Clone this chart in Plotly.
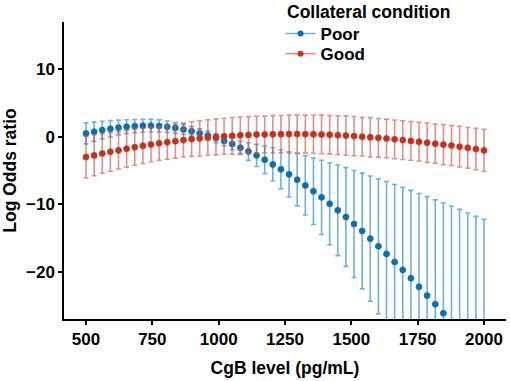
import numpy as np
import plotly.graph_objects as go

# CgB level grid (50 evenly spaced levels from 500 to 2000 pg/mL)
cgb_level = list(np.linspace(500, 2000, 50))

# Poor collateral: log odds ratio and CI half-width
poor_logor = [0.47, 0.71, 0.96, 1.15, 1.33, 1.45, 1.54, 1.60, 1.61, 1.57,
              1.45, 1.28, 1.05, 0.78, 0.48, 0.15, -0.22, -0.64, -1.10, -1.65,
              -2.20, -2.77, -3.41, -4.10, -4.83, -5.57, -6.36, -7.20, -8.07, -8.96,
              -9.90, -10.87, -11.86, -12.89, -13.92, -15.05, -16.17, -17.30, -18.48, -19.66,
              -20.88, -22.16, -23.45, -24.71, -26.04, -27.35, -28.70, -30.05, -31.40, -32.75]
poor_ci = [1.55, 1.42, 1.30, 1.20, 1.10, 1.03, 0.98, 0.95, 0.93, 0.90,
           0.85, 0.80, 0.75, 0.70, 0.66, 0.65, 0.67, 0.72, 0.82, 1.00,
           1.30, 1.65, 2.03, 2.45, 2.88, 3.33, 3.85, 4.37, 4.90, 5.47,
           6.05, 6.68, 7.28, 7.90, 8.54, 9.23, 9.96, 10.67, 11.41, 12.20,
           12.95, 13.76, 14.59, 15.38, 16.25, 17.11, 17.97, 18.78, 19.64, 20.55]

# Good collateral
good_logor = [-3.02, -2.77, -2.50, -2.25, -2.03, -1.80, -1.57, -1.36, -1.16, -0.98,
              -0.82, -0.67, -0.52, -0.37, -0.26, -0.14, -0.04, 0.05, 0.12, 0.19,
              0.25, 0.30, 0.32, 0.34, 0.36, 0.37, 0.37, 0.36, 0.34, 0.31,
              0.27, 0.21, 0.15, 0.07, -0.02, -0.10, -0.18, -0.27, -0.40, -0.52,
              -0.64, -0.76, -0.90, -1.04, -1.18, -1.32, -1.48, -1.65, -1.84, -2.04]
good_ci = [3.05, 3.00, 2.90, 2.85, 2.75, 2.70, 2.65, 2.60, 2.55, 2.50,
           2.50, 2.50, 2.50, 2.55, 2.60, 2.60, 2.65, 2.65, 2.70, 2.70,
           2.70, 2.70, 2.70, 2.75, 2.75, 2.80, 2.80, 2.80, 2.80, 2.85,
           2.85, 2.85, 2.90, 2.90, 2.85, 2.90, 2.85, 2.85, 2.85, 2.85,
           2.85, 2.85, 2.90, 2.90, 2.95, 2.95, 3.00, 3.00, 3.05, 3.10]

x_ticks = [500, 750, 1000, 1250, 1500, 1750, 2000]
y_ticks = [-20, -10, 0, 10]

series = [
    ("Poor", poor_logor, poor_ci, "#0E6DB5", "rgba(60,150,210,0.75)", "legend"),
    ("Good", good_logor, good_ci, "#C2331F", "rgba(205,85,75,0.65)", "legend2"),
]

fig = go.Figure()
for name, vals, ci, col, ecol, lg in series:
    fig.add_trace(go.Scatter(
        x=cgb_level, y=vals, mode="markers", name=name, showlegend=False,
        marker=dict(size=6, color=col, line=dict(width=0.8, color=col)),
        error_y=dict(type="data", array=ci, symmetric=True, color=ecol,
                     thickness=1.6, width=2.5),
    ))
# legend keys (line + dot, as in the reference)
for name, vals, ci, col, ecol, lg in series:
    fig.add_trace(go.Scatter(
        x=[None], y=[None], mode="lines+markers", name=name, legend=lg,
        marker=dict(size=6, color=col),
        line=dict(color=ecol, width=1.6),
    ))

font_family = "Liberation Sans, Arial, sans-serif"
legend_style = dict(
    xanchor="left", yanchor="middle", bgcolor="rgba(0,0,0,0)",
    font=dict(size=17, family=font_family, color="black", weight="bold"),
    itemwidth=30,
)
fig.update_layout(
    width=510, height=381,
    margin=dict(l=64, r=4, t=22, b=62, autoexpand=False),
    paper_bgcolor="white", plot_bgcolor="white",
    font=dict(family=font_family, color="black"),
    showlegend=True,
    legend=dict(x=0.49, y=0.9596, **legend_style),
    legend2=dict(x=0.49, y=0.892, **legend_style),
    annotations=[dict(
        text="<b>Collateral condition</b>", xref="paper", yref="paper",
        x=0.5, y=1.034, xanchor="left", yanchor="middle", showarrow=False,
        font=dict(size=17.5, family=font_family, color="black"),
    )],
    xaxis=dict(
        range=[417, 2083], tickvals=x_ticks, showgrid=False, zeroline=False,
        showline=True, linecolor="black", linewidth=1.5,
        ticks="outside", ticklen=4, tickwidth=1.5, tickcolor="black",
        tickfont=dict(size=17, family=font_family, color="black", weight="bold"),
        title=dict(text="<b>CgB level (pg/mL)</b>", standoff=14,
                   font=dict(size=17.5, family=font_family, color="black")),
    ),
    yaxis=dict(
        range=[-26.9, 16.9], tickvals=y_ticks, showgrid=False, zeroline=False,
        showline=True, linecolor="black", linewidth=1.5,
        ticks="outside", ticklen=4, tickwidth=1.5, tickcolor="black",
        tickfont=dict(size=17, family=font_family, color="black", weight="bold"),
        title=dict(text="<b>Log Odds ratio</b>", standoff=8,
                   font=dict(size=17.5, family=font_family, color="black")),
    ),
)

fig.write_html("out.html", config={"displayModeBar": False},
               post_script="document.body.style.margin='0';document.body.style.overflow='hidden';")
